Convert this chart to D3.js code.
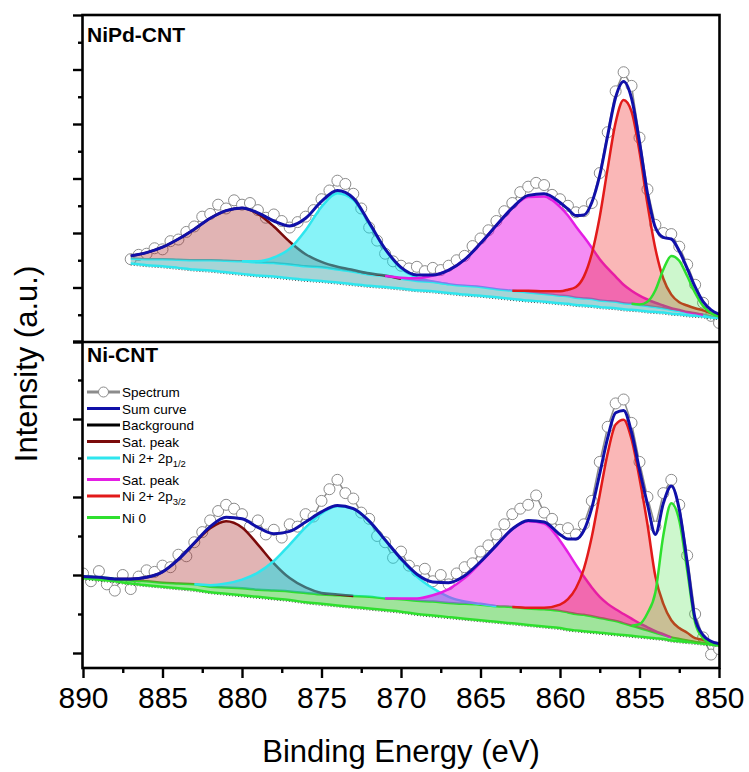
<!DOCTYPE html>
<html>
<head>
<meta charset="utf-8">
<title>Ni 2p XPS</title>
<script src="https://d3js.org/d3.v7.min.js"></script>
<style>
  body { margin: 0; background: #fff; }
  text { font-family: "Liberation Sans", Arial, sans-serif; }
</style>
</head>
<body>
<script>

// ---------- data (binding energy in eV, intensity in arbitrary units) ----------

// NiPd-CNT panel
var topE = [887,886,885,884,883,882,881,880,879,878,877,876,875,874,873,872,871,870,869,868,867,866,865,864,863,862,861,
            860,859.5,859,858.5,858,857.5,857,856.5,856,855.5,855,854.5,854,853.5,853,852.5,852,851.5,851,850.5,850];
var topBg = [1.44,1.41,1.39,1.36,1.33,1.31,1.28,1.25,1.22,1.20,1.17,1.14,1.12,1.09,1.06,1.03,1.01,0.98,0.95,0.93,0.90,0.87,0.85,0.82,0.79,0.76,0.74,
             0.71,0.70,0.68,0.67,0.66,0.64,0.63,0.62,0.60,0.59,0.58,0.56,0.55,0.54,0.52,0.51,0.49,0.48,0.47,0.45,0.44];
var topTail = [0.09,0.11,0.13,0.15,0.17,0.19,0.21,0.23,0.24,0.25,0.25,0.25,0.25,0.24,0.23,0.21,0.20,0.18,0.17,0.17,0.16,0.16,0.16,0.15,0.15,0.15,0.14,
               0.14,0.14,0.13,0.13,0.13,0.12,0.12,0.12,0.11,0.11,0.10,0.10,0.09,0.08,0.07,0.06,0.05,0.04,0.03,0.02,0.01];
var topSat1 = [0.05,0.12,0.22,0.38,0.57,0.77,0.92,0.98,0.89,0.67,0.42,0.22,0.10,0.05,0.03,0.02,0.01,0,0,0,0,0,0,0,0,0,0,
               0,0,0,0,0,0,0,0,0,0,0,0,0,0,0,0,0,0,0,0,0];
var topP12 = [0,0,0,0,0,0,0,0,0.02,0.10,0.29,0.66,1.11,1.40,1.32,0.93,0.49,0.19,0.06,0.01,0,0,0,0,0,0,0,
              0,0,0,0,0,0,0,0,0,0,0,0,0,0,0,0,0,0,0,0,0];
var topSat2 = [0,0,0,0,0,0,0,0,0,0,0,0,0,0,0,0,0,0.02,0.05,0.12,0.26,0.48,0.80,1.17,1.52,1.75,1.79,
               1.63,1.48,1.31,1.13,0.94,0.76,0.60,0.46,0.34,0.24,0.17,0.12,0.08,0.05,0.03,0.02,0.01,0.01,0,0,0];
var topP32 = [0,0,0,0,0,0,0,0,0,0,0,0,0,0,0,0,0,0,0,0,0,0,0,0,0,0.03,0.05,
              0.08,0.12,0.20,0.40,0.83,1.54,2.44,3.29,3.73,3.53,2.81,1.87,1.07,0.54,0.28,0.16,0.13,0.10,0.08,0.06,0.04];
var topNi0 = [0,0,0,0,0,0,0,0,0,0,0,0,0,0,0,0,0,0,0,0,0,0,0,0,0,0,0,
              0,0,0,0,0,0,0,0,0,0,0.01,0.08,0.31,0.71,0.99,0.92,0.67,0.38,0.16,0.06,0.02];
var topSpectrum = [[887,1.52],[886.5,1.60],[886,1.62],[885.5,1.72],[885,1.70],[884.5,1.85],[884,1.88],[883.5,2.02],[883,2.12],
  [882.5,2.30],[882,2.35],[881.5,2.52],[881,2.45],[880.5,2.60],[880,2.52],[879.5,2.55],[879,2.42],[878.5,2.28],[878,2.34],
  [877.5,2.22],[877,2.10],[876.5,2.20],[876,2.30],[875.5,2.42],[875,2.62],[874.5,2.78],[874,2.96],[873.5,2.90],[873,2.72],
  [872.5,2.45],[872,2.10],[871.5,1.86],[871,1.62],[870.5,1.48],[870,1.40],[869.5,1.35],[869,1.38],[868.5,1.30],[868,1.36],
  [867.5,1.32],[867,1.40],[866.5,1.50],[866,1.58],[865.5,1.76],[865,1.90],[864.5,2.05],[864,2.22],[863.5,2.40],[863,2.55],
  [862.5,2.75],[862,2.85],[861.5,2.92],[861,2.88],[860.5,2.70],[860,2.62],[859.5,2.50],[859,2.38],[858.5,2.40],[858,2.55],
  [857.5,3.10],[857,3.85],[856.5,4.60],[856,4.95],[855.5,4.70],[855,3.75],[854.5,2.80],[854,2.15],[853.5,2.00],[853,1.98],
  [852.5,1.75],[852,1.42],[851.5,1.05],[851,0.72],[850.5,0.48],[850,0.35]];

// Ni-CNT panel
var botE = [890,889,888,887,886,885,884,883,882,881,880,879,878,877,876,875,874,873,872,871,870,869,868,867,866,865,864,863,862,861,
            860,859.5,859,858.5,858,857.5,857,856.5,856,855.5,855,854.5,854,853.5,853,852.5,852,851.5,851,850.5,850];
var botBg = [0.96,0.94,0.92,0.89,0.87,0.85,0.83,0.81,0.78,0.76,0.74,0.72,0.70,0.68,0.65,0.63,0.61,0.59,0.57,0.55,0.53,0.50,0.48,0.46,0.44,0.42,0.40,0.38,0.36,0.34,
             0.32,0.30,0.29,0.28,0.27,0.26,0.25,0.24,0.23,0.22,0.21,0.20,0.19,0.18,0.16,0.15,0.14,0.13,0.12,0.11,0.10];
var botTail = [0.02,0.03,0.03,0.04,0.05,0.05,0.06,0.07,0.07,0.08,0.09,0.09,0.10,0.11,0.12,0.12,0.13,0.14,0.15,0.15,0.16,0.17,0.18,0.18,0.19,0.20,0.20,0.21,0.21,0.22,
               0.22,0.22,0.21,0.21,0.20,0.19,0.18,0.17,0.15,0.13,0.11,0.09,0.07,0.05,0.04,0.03,0.02,0.01,0.01,0,0];
var botSat1 = [0,0,0,0.02,0.05,0.14,0.31,0.53,0.75,0.85,0.78,0.58,0.35,0.17,0.07,0.02,0.01,0,0,0,0,0,0,0,0,0,0,0,0,0,
               0,0,0,0,0,0,0,0,0,0,0,0,0,0,0,0,0,0,0,0,0];
var botP12 = [0,0,0,0,0,0,0,0,0.02,0.05,0.11,0.22,0.38,0.60,0.84,1.04,1.14,1.12,0.97,0.75,0.51,0.31,0.17,0.08,0.03,0.01,0,0,0,0,
              0,0,0,0,0,0,0,0,0,0,0,0,0,0,0,0,0,0,0,0,0];
var botSat2 = [0,0,0,0,0,0,0,0,0,0,0,0,0,0,0,0,0,0,0,0,0.01,0.03,0.08,0.18,0.33,0.54,0.78,1.00,1.12,1.10,
               0.90,0.77,0.63,0.49,0.37,0.27,0.20,0.15,0.12,0.09,0.06,0.04,0.02,0.01,0,0,0,0,0,0,0];
var botP32 = [0,0,0,0,0,0,0,0,0,0,0,0,0,0,0,0,0,0,0,0,0,0,0,0,0,0,0,0,0.01,0.02,
              0.08,0.17,0.33,0.59,1.02,1.58,2.13,2.52,2.61,2.39,1.92,1.36,0.72,0.40,0.22,0.14,0.10,0.05,0.04,0.03,0.02];
var botNi0 = [0,0,0,0,0,0,0,0,0,0,0,0,0,0,0,0,0,0,0,0,0,0,0,0,0,0,0,0,0,0,
              0,0,0,0,0,0,0,0,0,0,0.05,0.22,0.52,1.28,1.72,1.52,0.90,0.25,0.06,0.01,0];
var botSpectrum = [[890,1.02],[889.5,0.92],[889,1.05],[888.5,0.88],[888,0.80],[887.5,1.00],[887,0.82],[886.5,0.98],[886,1.06],
  [885.5,1.04],[885,1.12],[884.5,1.10],[884,1.26],[883.5,1.24],[883,1.42],[882.5,1.55],[882,1.70],[881.5,1.82],[881,1.90],
  [880.5,1.85],[880,1.78],[879.5,1.62],[879,1.70],[878.5,1.52],[878,1.58],[877.5,1.48],[877,1.65],[876.5,1.62],[876,1.78],
  [875.5,1.75],[875,1.95],[874.5,2.10],[874,2.22],[873.5,2.05],[873,1.98],[872.5,1.80],[872,1.72],[871.5,1.50],[871,1.42],
  [870.5,1.22],[870,1.30],[869.5,1.12],[869,1.05],[868.5,1.08],[868,0.92],[867.5,1.00],[867,0.88],[866.5,1.02],[866,1.10],
  [865.5,1.15],[865,1.30],[864.5,1.38],[864,1.52],[863.5,1.65],[863,1.78],[862.5,1.85],[862,1.90],[861.5,2.02],[861,1.80],
  [860.5,1.72],[860,1.58],[859.5,1.60],[859,1.52],[858.5,1.65],[858,1.95],[857.5,2.45],[857,2.90],[856.5,3.20],[856,3.25],
  [855.5,2.95],[855,2.45],[854.5,2.00],[854,1.62],[853.5,2.05],[853,2.22],[852.5,1.90],[852,1.25],[851.5,0.50],[851,0.20],
  [850.5,-0.02],[850,0.05]];

// ticks and legend
var xMajor = [890,885,880,875,870,865,860,855,850];
var xMinor = [887.5,882.5,877.5,872.5,867.5,862.5,857.5,852.5];
var yTopMajor = [0,1,2,3,4,5,6], yTopMinor = [0.5,1.5,2.5,3.5,4.5,5.5];
var yBotMajor = [0,1,2,3,4], yBotMinor = [0.5,1.5,2.5,3.5];
var legendNames = ["Spectrum","Sum curve","Background","Sat. peak","Ni 2+ 2p","Sat. peak","Ni 2+ 2p","Ni 0"];
var legendSubs = ["","","","","1/2","","3/2",""];

// ---------- colours ----------
var cSum = "#1010a8", cSat1 = "#7b0a0a", cP12 = "#2ee6ee", cSat2 = "#e41ee4",
    cP32 = "#e21a1a", cNi0 = "#2ee02e", cSpec = "#8c8c8c";
var legendColors = [cSpec, cSum, "#000", cSat1, cP12, cSat2, cP32, cNi0];

var width = 749, height = 772;
var left = 83, right = 719, top0 = 15, mid = 342, bottom = 668;

var svg = d3.select('body').append('svg')
  .attr('width', width)
  .attr('height', height);

svg.append('rect').attr('width', width).attr('height', height).attr('fill', '#fff');

var x = d3.scaleLinear().domain([890, 850]).range([left, right]);
var yTop = d3.scaleLinear().domain([0, 6]).range([mid, top0]);
var yBot = d3.scaleLinear().domain([0, 4]).range([653, 341]);

var defs = svg.append('defs');
defs.append('clipPath').attr('id', 'clipTop').append('rect')
  .attr('x', left).attr('y', top0).attr('width', right - left).attr('height', mid - top0);
defs.append('clipPath').attr('id', 'clipBot').append('rect')
  .attr('x', left).attr('y', mid).attr('width', right - left).attr('height', bottom - mid);

var panels = [
  {E: topE, bg: topBg, tail: topTail, y: yTop, clip: 'clipTop', spec: topSpectrum,
   tailLine: cP12, tailFill: '#28969b', tailOp: 0.41,
   comps: [
     {h: topSat1, line: cSat1, fill: '#aa2828', op: 0.35},
     {h: topP12, line: cP12, fill: '#00e6f0', op: 0.47},
     {h: topSat2, line: cSat2, fill: '#e600e6', op: 0.45},
     {h: topP32, line: cP32, fill: '#f01e1e', op: 0.32},
     {h: topNi0, line: cNi0, fill: '#28dc28', op: 0.23}
   ]},
  {E: botE, bg: botBg, tail: botTail, y: yBot, clip: 'clipBot', spec: botSpectrum,
   tailLine: cNi0, tailFill: '#3cc832', tailOp: 0.49,
   comps: [
     {h: botSat1, line: cSat1, fill: '#aa2828', op: 0.35},
     {h: botP12, line: cP12, fill: '#00e6f0', op: 0.47},
     {h: botSat2, line: cSat2, fill: '#e600e6', op: 0.45},
     {h: botP32, line: cP32, fill: '#f01e1e', op: 0.32},
     {h: botNi0, line: cNi0, fill: '#28dc28', op: 0.23}
   ]}
];

function drawPanel(p) {
  var g = svg.append('g').attr('clip-path', 'url(#' + p.clip + ')');
  var base2 = p.E.map(function(e, i) { return p.bg[i] + p.tail[i]; });
  var sum = base2.map(function(b, i) {
    var s = b;
    p.comps.forEach(function(c) { s += c.h[i]; });
    return s;
  });

  // spectrum: grey line with open circles
  g.append('path')
    .datum(p.spec)
    .attr('fill', 'none')
    .attr('stroke', cSpec)
    .attr('stroke-width', 1.5)
    .attr('d', d3.line().x(function(d) { return x(d[0]); }).y(function(d) { return p.y(d[1]); }));
  g.selectAll('circle.spec')
    .data(p.spec)
    .enter()
    .append('circle')
    .attr('class', 'spec')
    .attr('cx', function(d) { return x(d[0]); })
    .attr('cy', function(d) { return p.y(d[1]); })
    .attr('r', 5.5)
    .attr('fill', '#fff')
    .attr('stroke', cSpec)
    .attr('stroke-width', 1);

  // background wedge
  var pts = p.E.map(function(e, i) { return {e: e, b: p.bg[i], t: base2[i]}; });
  g.append('path')
    .datum(pts)
    .attr('fill', p.tailFill)
    .attr('fill-opacity', p.tailOp)
    .attr('d', d3.area().curve(d3.curveMonotoneX)
      .x(function(d) { return x(d.e); })
      .y0(function(d) { return p.y(d.b); })
      .y1(function(d) { return p.y(d.t); }));
  g.append('path')
    .datum(pts)
    .attr('fill', 'none')
    .attr('stroke', '#000')
    .attr('stroke-width', 0.8)
    .attr('stroke-dasharray', '1,2')
    .attr('d', d3.line().x(function(d) { return x(d.e); }).y(function(d) { return p.y(d.b) + 1.5; }));
  ['b', 't'].forEach(function(k) {
    g.append('path')
      .datum(pts)
      .attr('fill', 'none')
      .attr('stroke', p.tailLine)
      .attr('stroke-width', 2.5)
      .attr('d', d3.line().curve(d3.curveMonotoneX)
        .x(function(d) { return x(d.e); })
        .y(function(d) { return p.y(d[k]); }));
  });

  // fitted components, each filled down to the background
  p.comps.forEach(function(c) {
    var cp = [];
    p.E.forEach(function(e, i) {
      if (c.h[i] > 0 || c.h[i - 1] > 0 || c.h[i + 1] > 0) {
        cp.push({e: e, b: base2[i], t: base2[i] + c.h[i]});
      }
    });
    g.append('path')
      .datum(cp)
      .attr('fill', c.fill)
      .attr('fill-opacity', c.op)
      .attr('d', d3.area().curve(d3.curveMonotoneX)
        .x(function(d) { return x(d.e); })
        .y0(function(d) { return p.y(d.b); })
        .y1(function(d) { return p.y(d.t); }));
    g.append('path')
      .datum(cp)
      .attr('fill', 'none')
      .attr('stroke', c.line)
      .attr('stroke-width', 2.5)
      .attr('d', d3.line().curve(d3.curveMonotoneX)
        .x(function(d) { return x(d.e); })
        .y(function(d) { return p.y(d.t); }));
  });

  // sum curve
  g.append('path')
    .datum(p.E.map(function(e, i) { return [e, sum[i]]; }))
    .attr('fill', 'none')
    .attr('stroke', cSum)
    .attr('stroke-width', 3)
    .attr('d', d3.line().curve(d3.curveMonotoneX)
      .x(function(d) { return x(d[0]); })
      .y(function(d) { return p.y(d[1]); }));
}

panels.forEach(drawPanel);

// ---------- axes ----------
function leftTicks(scale, major, minor) {
  svg.append('g')
    .attr('transform', 'translate(' + left + ',0)')
    .call(d3.axisLeft(scale).tickValues(major).tickSize(10).tickFormat(''))
    .call(function(a) { a.select('.domain').remove(); a.selectAll('line').attr('stroke-width', 2.4); });
  svg.append('g')
    .attr('transform', 'translate(' + left + ',0)')
    .call(d3.axisLeft(scale).tickValues(minor).tickSize(5).tickFormat(''))
    .call(function(a) { a.select('.domain').remove(); a.selectAll('line').attr('stroke-width', 2.4); });
}
leftTicks(yTop, yTopMajor, yTopMinor);
leftTicks(yBot, yBotMajor, yBotMinor);

var xAxisG = svg.append('g')
  .attr('transform', 'translate(0,' + bottom + ')')
  .call(d3.axisBottom(x).tickValues(xMajor).tickSize(10).tickPadding(9).tickFormat(d3.format('d')));
xAxisG.select('.domain').remove();
xAxisG.selectAll('line').attr('stroke-width', 2.4);
xAxisG.selectAll('text')
  .attr('font-size', 30)
  .attr('font-family', '"Liberation Sans", Arial, sans-serif')
  .attr('fill', '#000');
svg.append('g')
  .attr('transform', 'translate(0,' + bottom + ')')
  .call(d3.axisBottom(x).tickValues(xMinor).tickSize(5).tickFormat(''))
  .call(function(a) { a.select('.domain').remove(); a.selectAll('line').attr('stroke-width', 2.4); });

// frame
var frame = svg.append('g').attr('stroke', '#000').attr('stroke-width', 2.6).attr('fill', 'none');
frame.append('rect').attr('x', left - 0.5).attr('y', top0).attr('width', right - left + 1).attr('height', bottom - top0);
frame.append('line').attr('x1', left - 0.5).attr('x2', right + 0.5).attr('y1', mid).attr('y2', mid);

// titles
svg.append('text')
  .attr('x', (left + right) / 2)
  .attr('y', 762)
  .attr('text-anchor', 'middle')
  .attr('font-size', 31)
  .text('Binding Energy (eV)');

svg.append('text')
  .attr('transform', 'translate(37,364) rotate(-90)')
  .attr('text-anchor', 'middle')
  .attr('font-size', 31)
  .text('Intensity (a.u.)');

svg.append('text').attr('x', 87).attr('y', 42)
  .attr('font-size', 21).attr('font-weight', 'bold').text('NiPd-CNT');
svg.append('text').attr('x', 87).attr('y', 362)
  .attr('font-size', 21).attr('font-weight', 'bold').text('Ni-CNT');

// legend
var legend = svg.append('g');
var subsSeen = 0;
legendNames.forEach(function(name, i) {
  var ly = 392 + i * 16.5 + subsSeen * 5;
  if (legendSubs[i]) subsSeen++;
  legend.append('line')
    .attr('x1', 87).attr('x2', 120).attr('y1', ly).attr('y2', ly)
    .attr('stroke', legendColors[i]).attr('stroke-width', 3);
  if (i === 0) {
    legend.append('circle').attr('cx', 103.5).attr('cy', ly).attr('r', 5)
      .attr('fill', '#fff').attr('stroke', cSpec).attr('stroke-width', 1);
  }
  var t = legend.append('text').attr('x', 122).attr('y', ly + 5).attr('font-size', 13.5).text(name);
  if (legendSubs[i]) {
    t.append('tspan').attr('font-size', 9.5).attr('dy', 4).text(legendSubs[i]);
  }
});

</script>
</body>
</html>
